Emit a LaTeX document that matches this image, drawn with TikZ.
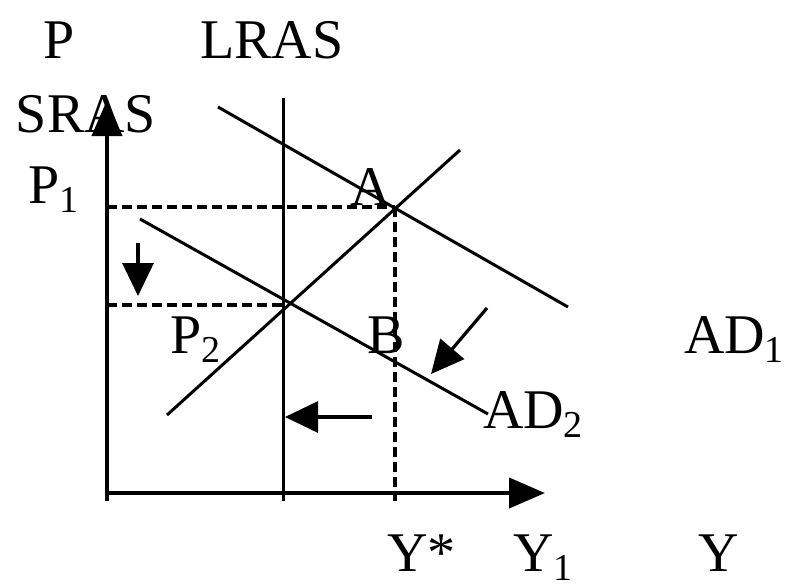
\documentclass[tikz,border=0pt]{standalone}
\usepackage{fontspec}
\setmainfont{Liberation Serif}
\usetikzlibrary{arrows.meta}
\newcommand{\mysub}[1]{\raisebox{-9pt}{\fontsize{38}{38}\selectfont #1}}
\tikzset{
  lbl/.style={anchor=base west, inner sep=0pt, outer sep=0pt, font=\fontsize{56}{60}\selectfont},
  axisline/.style={line width=4.2pt, -{Triangle[length=36pt,width=30pt]}},
  curve/.style={line width=3pt},
  guide/.style={line width=3.2pt, dash pattern=on 10pt off 5pt},
  shiftarrow/.style={line width=3.2pt, -{Triangle[length=33pt,width=31pt]}}
}
\begin{document}
\begin{tikzpicture}[x=1pt,y=-1pt]
\useasboundingbox[fill=white] (0,0) rectangle (786,587);
% key points
\coordinate (O) at (107,493);
\coordinate (ytop) at (107,100);
\coordinate (ybot) at (107,501);
\coordinate (xend) at (545,493);
\coordinate (Apt) at (395,207);
\coordinate (Bpt) at (283,305);
% axes
\draw[axisline] (ybot) -- (ytop);
\draw[axisline] (O) -- (xend);
% LRAS
\coordinate (lrasT) at (283,98);
\coordinate (lrasB) at (283,501);
\draw[curve] (lrasT) -- (lrasB);
% AD1
\coordinate (ad1a) at (218,107);
\coordinate (ad1b) at (568,307);
\draw[curve] (ad1a) -- (ad1b);
% AD2
\coordinate (ad2a) at (140,219);
\coordinate (ad2b) at (488,414);
\draw[curve] (ad2a) -- (ad2b);
% SRAS
\coordinate (srasa) at (167,415);
\coordinate (srasb) at (460,150);
\draw[curve] (srasa) -- (srasb);
% guides
\coordinate (p1ax) at (107,207);
\coordinate (p2ax) at (107,305);
\coordinate (yax) at (395,501);
\draw[guide] (p1ax) -- (Apt);
\draw[guide] (Apt) -- (yax);
\draw[guide] (p2ax) -- (Bpt);
% shift arrows
\coordinate (d1) at (138,243);
\coordinate (d2) at (138,296);
\draw[shiftarrow] (d1) -- (d2);
\coordinate (l1) at (372,417);
\coordinate (l2) at (285,417);
\draw[shiftarrow] (l1) -- (l2);
\coordinate (g1) at (487,308);
\coordinate (g2) at (431,374);
\draw[shiftarrow] (g1) -- (g2);
% labels
\node[lbl] (tP) at (43,58) {P};
\node[lbl] (tLRAS) at (200,58) {LRAS};
\node[lbl] (tSRAS) at (16,132) {SRAS};
\node[lbl] (tP1) at (28,203) {P\mysub{1}};
\node[lbl] (tA) at (350,205) {A};
\node[lbl] (tP2) at (170,353) {P\mysub{2}};
\node[lbl] (tB) at (367,353) {B};
\node[lbl] (tAD2) at (483,428) {AD\mysub{2}};
\node[lbl] (tAD1) at (684,353) {AD\mysub{1}};
\node[lbl] (tYs) at (387,571) {Y*};
\node[lbl] (tY1) at (513,571) {Y\mysub{1}};
\node[lbl] (tY) at (698,571) {Y};
\end{tikzpicture}
\end{document}
